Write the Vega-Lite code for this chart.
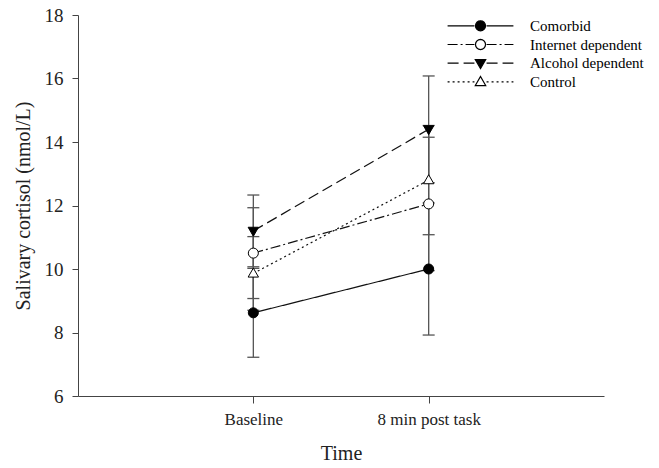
{
  "$schema": "https://vega.github.io/schema/vega-lite/v6.json",
  "width": 526,
  "height": 381,
  "autosize": {"type": "none"},
  "padding": {"left": 78, "top": 15, "right": 55, "bottom": 72},
  "config": {
    "view": {"stroke": null},
    "font": "Liberation Serif",
    "axis": {
      "labelFont": "Liberation Serif",
      "titleFont": "Liberation Serif",
      "titleFontWeight": "normal",
      "labelColor": "#222",
      "titleColor": "#222",
      "domainColor": "#444",
      "tickColor": "#444",
      "grid": false
    },
    "axisY": {"labelFontSize": 19, "tickSize": 6, "labelPadding": 9, "titleFontSize": 20, "titlePadding": 11},
    "axisX": {"labelFontSize": 17, "tickSize": 7, "labelPadding": 8, "titleFontSize": 20, "titlePadding": 16, "labelAngle": 0}
  },
  "data": {
    "values": [
      {"time": "Baseline", "group": "Comorbid", "marker": "Comorbid", "mean": 8.62, "lo": 7.22, "hi": 10.02},
      {"time": "8 min post task", "group": "Comorbid", "marker": "Comorbid", "mean": 10.0, "lo": 7.92, "hi": 12.08},
      {"time": "Baseline", "group": "Internet dependent", "marker": "Internet dependent", "mean": 10.5, "lo": 9.07, "hi": 11.93},
      {"time": "8 min post task", "group": "Internet dependent", "marker": "Internet dependent", "mean": 12.05, "lo": 9.95, "hi": 14.15},
      {"time": "Baseline", "group": "Alcohol dependent", "marker": "Alcohol dependent", "mean": 11.2, "lo": 10.07, "hi": 12.33},
      {"time": "8 min post task", "group": "Alcohol dependent", "marker": "Alcohol dependent", "mean": 14.4, "lo": 12.72, "hi": 16.08},
      {"time": "Baseline", "group": "Control", "marker": "Control", "mean": 9.86, "lo": 8.7, "hi": 11.02},
      {"time": "8 min post task", "group": "Control", "marker": "Control", "mean": 12.8, "lo": 11.08, "hi": 14.52}
    ]
  },
  "encoding": {
    "x": {
      "field": "time",
      "type": "ordinal",
      "sort": ["Baseline", "8 min post task"],
      "scale": {"type": "point", "padding": 1},
      "title": "Time"
    }
  },
  "layer": [
    {
      "mark": {"type": "rule", "color": "#555", "strokeWidth": 1.3},
      "encoding": {
        "y": {"field": "lo", "type": "quantitative", "scale": {"domain": [6, 18], "nice": false}, "axis": {"values": [6, 8, 10, 12, 14, 16, 18]}, "title": "Salivary cortisol (nmol/L)"},
        "y2": {"field": "hi"}
      }
    },
    {
      "mark": {"type": "tick", "orient": "horizontal", "size": 12, "thickness": 1.3, "color": "#555", "opacity": 1},
      "encoding": {"y": {"field": "lo", "type": "quantitative", "title": "Salivary cortisol (nmol/L)"}}
    },
    {
      "mark": {"type": "tick", "orient": "horizontal", "size": 12, "thickness": 1.3, "color": "#555", "opacity": 1},
      "encoding": {"y": {"field": "hi", "type": "quantitative", "title": "Salivary cortisol (nmol/L)"}}
    },
    {
      "mark": {"type": "line", "color": "#111", "strokeWidth": 1.2},
      "encoding": {
        "y": {"field": "mean", "type": "quantitative", "title": "Salivary cortisol (nmol/L)"},
        "strokeDash": {
          "field": "group",
          "type": "nominal",
          "sort": ["Comorbid", "Internet dependent", "Alcohol dependent", "Control"],
          "scale": {"range": [[1, 0], [10, 3, 2, 3], [11, 5], [2, 3]]},
          "legend": {
            "orient": "none",
            "legendX": 393,
            "legendY": 1.3,
            "title": null,
            "padding": 0,
            "symbolType": "M-3.8,0H-0.7M0.7,0H3.8",
            "symbolSize": 300,
            "symbolOffset": 0,
            "symbolStrokeColor": "black",
            "symbolStrokeWidth": 1.2,
            "symbolFillColor": "transparent",
            "labelFont": "Liberation Serif",
            "labelFontSize": 15,
            "labelColor": "black",
            "labelOffset": 40,
            "rowPadding": 0.7
          }
        }
      }
    },
    {
      "mark": {"type": "point", "filled": true, "opacity": 1, "strokeWidth": 1, "size": 300},
      "encoding": {
        "y": {"field": "mean", "type": "quantitative", "title": "Salivary cortisol (nmol/L)"},
        "shape": {
          "field": "marker",
          "type": "nominal",
          "scale": {
            "domain": ["Comorbid", "Internet dependent", "Alcohol dependent", "Control"],
            "range": [
              "M0.58,0L0.536,0.222L0.41,0.41L0.222,0.536L0,0.58L-0.222,0.536L-0.41,0.41L-0.536,0.222L-0.58,0L-0.536,-0.222L-0.41,-0.41L-0.222,-0.536L0,-0.58L0.222,-0.536L0.41,-0.41L0.536,-0.222Z",
              "M0.58,0L0.536,0.222L0.41,0.41L0.222,0.536L0,0.58L-0.222,0.536L-0.41,0.41L-0.536,0.222L-0.58,0L-0.536,-0.222L-0.41,-0.41L-0.222,-0.536L0,-0.58L0.222,-0.536L0.41,-0.41L0.536,-0.222Z",
              "M-0.6,-0.42L0.6,-0.42L0,0.62Z",
              "M-0.6,0.42L0.6,0.42L0,-0.62Z"
            ]
          },
          "legend": {
            "orient": "none",
            "legendX": 393,
            "legendY": 1.3,
            "title": null,
            "padding": 0,
            "symbolSize": 300,
            "symbolOffset": 0,
            "symbolStrokeWidth": 1.2,
            "labelExpr": "''",
            "labelFontSize": 15,
            "rowPadding": 0.7
          }
        },
        "fill": {
          "field": "marker",
          "type": "nominal",
          "scale": {
            "domain": ["Comorbid", "Internet dependent", "Alcohol dependent", "Control"],
            "range": ["black", "white", "black", "white"]
          },
          "legend": {
            "orient": "none",
            "legendX": 393,
            "legendY": 1.3,
            "title": null,
            "padding": 0,
            "symbolSize": 300,
            "symbolOffset": 0,
            "symbolStrokeWidth": 1.2,
            "labelExpr": "''",
            "labelFontSize": 15,
            "rowPadding": 0.7
          }
        },
        "stroke": {
          "field": "marker",
          "type": "nominal",
          "scale": {
            "domain": ["Comorbid", "Internet dependent", "Alcohol dependent", "Control"],
            "range": ["black", "black", "black", "black"]
          },
          "legend": {
            "orient": "none",
            "legendX": 393,
            "legendY": 1.3,
            "title": null,
            "padding": 0,
            "symbolSize": 300,
            "symbolOffset": 0,
            "symbolStrokeWidth": 1.2,
            "labelExpr": "''",
            "labelFontSize": 15,
            "rowPadding": 0.7
          }
        }
      }
    }
  ]
}
